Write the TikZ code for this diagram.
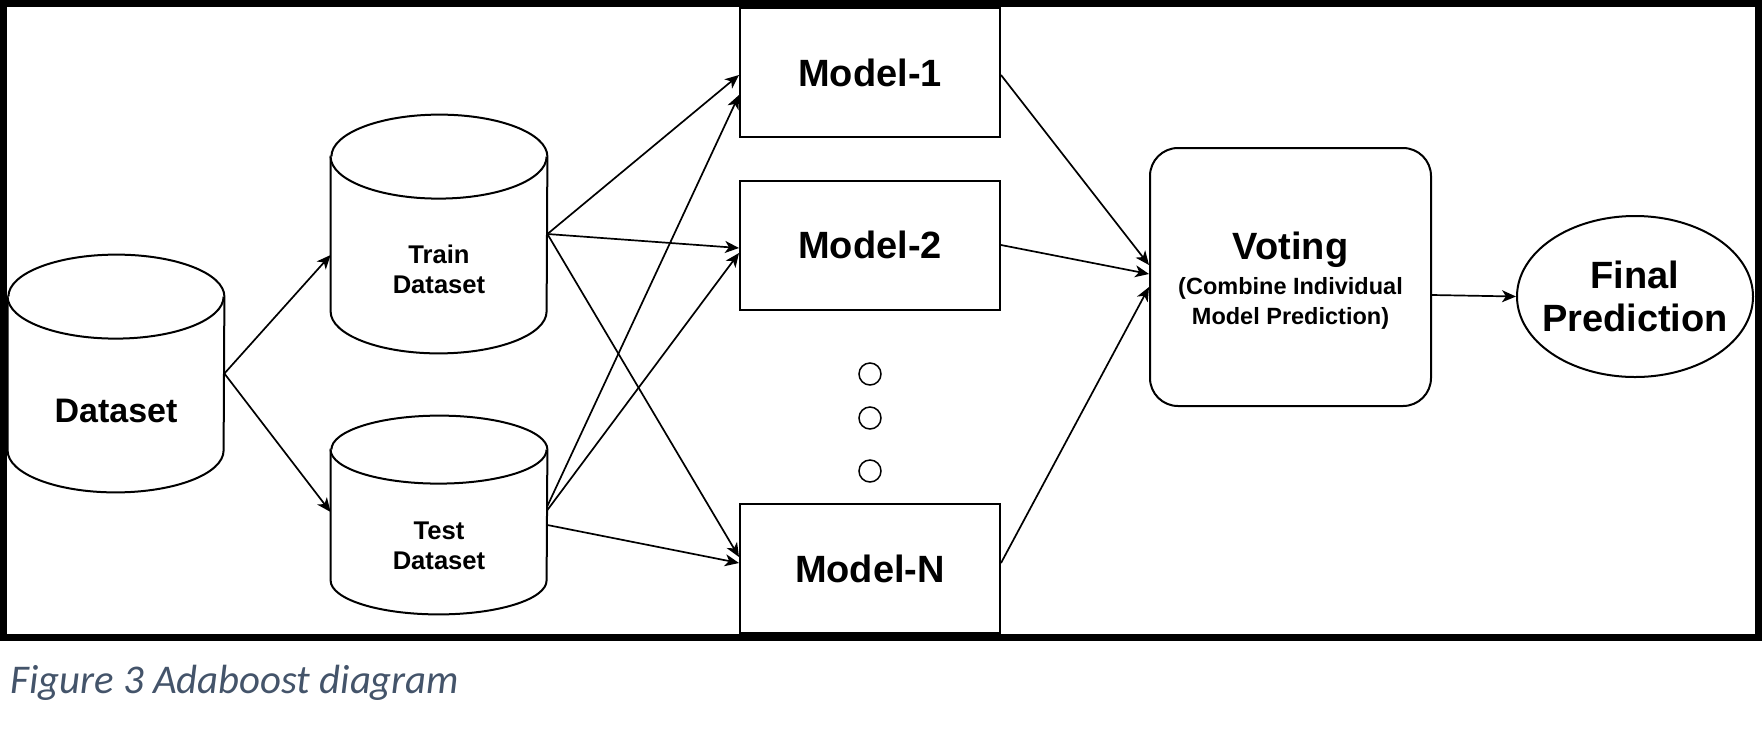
\documentclass[tikz,border=0pt]{standalone}
\usepackage{fontspec}
\setmainfont{Liberation Sans}
\newfontfamily\capfont{Carlito}
\usetikzlibrary{arrows.meta,calc,shapes.geometric}
\definecolor{capblue}{HTML}{44546A}
\newcommand\drawcyl[2]{%
  \draw[cylline] ([yshift=-#2*0.5pt]#1.north west) -- ([yshift=#2*0.5pt]#1.south west)
    arc[start angle=180,end angle=360,x radius=108,y radius=#2]
    -- ([yshift=-#2*0.5pt]#1.north east)
    arc[start angle=0,end angle=180,x radius=108,y radius=#2] -- cycle;
  \draw[cylline] ([yshift=-#2*0.5pt]#1.north west)
    arc[start angle=180,end angle=360,x radius=108,y radius=#2];}
\begin{document}
\begin{tikzpicture}[x=0.5pt,y=0.5pt,
  cylline/.style={line width=1pt, fill=white},
  cylnode/.style={inner sep=0pt, minimum width=108pt},
  modelbox/.style={draw, line width=1pt, fill=white, minimum width=130pt, minimum height=64.5pt,
    inner sep=0pt, font=\fontsize{19}{22}\selectfont\bfseries},
  bigtext/.style={inner sep=0pt, anchor=base, font=\fontsize{19}{22}\selectfont\bfseries},
  smalltext/.style={inner sep=0pt, anchor=base, font=\fontsize{12.8}{15}\selectfont\bfseries},
  subtext/.style={inner sep=0pt, anchor=base, font=\fontsize{11.75}{14}\selectfont\bfseries},
  dotc/.style={draw, circle, line width=0.75pt, minimum size=11pt, inner sep=0pt},
  conn/.style={line width=0.85pt, -{Stealth[length=7pt,width=6pt,inset=2pt]}},
  plainline/.style={line width=0.85pt}]
\useasboundingbox (0,0) rectangle (1762,-751);

% cylinders
\node[cylnode, minimum height=118.5pt] (ds) at (116,-373.5) {};
\node[cylnode, minimum height=119pt] (tr) at (439,-234) {};
\node[cylnode, minimum height=99pt] (te) at (439,-515) {};
\drawcyl{ds}{42}
\drawcyl{tr}{42}
\drawcyl{te}{34}
\node[font=\fontsize{17}{20}\selectfont\bfseries, inner sep=0pt, anchor=base] (dsT) at (116,-422) {Dataset};
\node[smalltext] (trT1) at (439,-263) {Train};
\node[smalltext] (trT2) at (439,-293) {Dataset};
\node[smalltext] (teT1) at (439,-539) {Test};
\node[smalltext] (teT2) at (439,-569) {Dataset};

% models
\node[modelbox] (m1) at (870,-72.5) {Model-1};
\node[modelbox] (m2) at (870,-245) {Model-2};
\node[modelbox] (mn) at (870,-568.5) {Model-N};
\node[dotc] (d1) at (870,-374) {};
\node[dotc] (d2) at (870,-418) {};
\node[dotc] (d3) at (870,-471) {};

% voting
\node[draw, line width=1pt, rounded corners=14pt, minimum width=140.5pt, minimum height=129pt, inner sep=0pt] (vote) at (1290.5,-277) {};
\node[bigtext] (voteT) at (1290.5,-259) {Voting};
\node[subtext] (voteS1) at (1290.5,-294) {(Combine Individual};
\node[subtext] (voteS2) at (1290.5,-324) {Model Prediction)};

% final
\node[draw, ellipse, line width=1pt, minimum width=118pt, minimum height=80.5pt, inner sep=0pt] (fin) at (1635,-296.5) {};
\node[bigtext] (finT1) at (1635,-288) {Final};
\node[bigtext] (finT2) at (1635,-331) {Prediction};

% connectors
\draw[conn] (ds.east) -- ([yshift=-10.5pt]tr.west);
\draw[conn] (ds.east) -- ([yshift=1.5pt]te.west);
\draw[conn] (tr.east) -- ([yshift=-1.25pt]m1.west);
\draw[conn] (tr.east) -- ([yshift=-1.5pt]m2.west);
\draw[conn] (tr.east) -- ([yshift=5.75pt]mn.west);
\draw[conn] ([yshift=4.5pt]te.east) -- ([yshift=-11.25pt]m1.west);
\draw[conn] ([yshift=2.5pt]te.east) -- ([yshift=-4pt]m2.west);
\draw[conn] ([yshift=-5pt]te.east) -- ([yshift=2.75pt]mn.west);
\draw[conn] ([yshift=-1.25pt]m1.east) -- ([yshift=6pt]vote.west);
\draw[conn] (m2.east) -- ([yshift=1.5pt]vote.west);
\draw[conn] ([yshift=2.75pt]mn.east) -- ([yshift=-5pt]vote.west);
\draw[conn] ([yshift=-9pt]vote.east) -- (fin.west);

% frame
\draw[line width=3.5pt] (3.5,-3.5) rectangle (1758.5,-637.5);

% caption
\node[anchor=base west, inner sep=0pt, text=capblue, font=\capfont\itshape\fontsize{20.4}{24}\selectfont] (cap) at (10,-693) {Figure 3 Adaboost diagram};
\end{tikzpicture}
\end{document}
